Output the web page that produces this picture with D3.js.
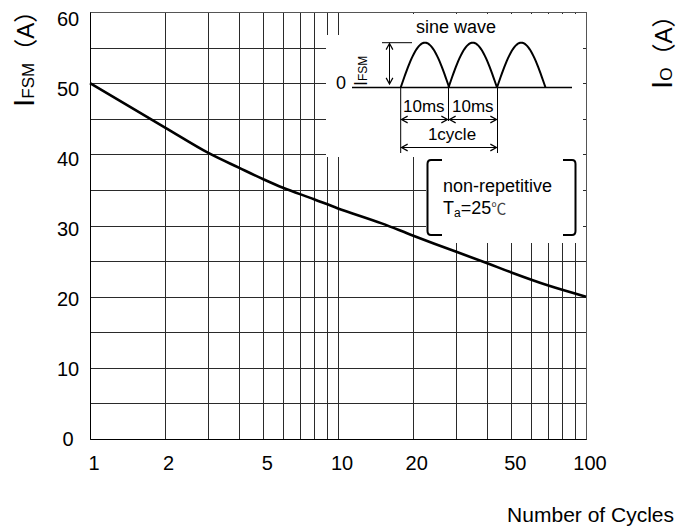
<!DOCTYPE html>
<html>
<head>
<meta charset="utf-8">
<script src="https://cdn.jsdelivr.net/npm/d3@7"></script>
<style>
  body { margin: 0; background: #fff; }
  text { font-family: "Liberation Sans", Arial, "Noto Sans CJK SC", sans-serif; fill: #000; }
</style>
</head>
<body>
<div id="chart"></div>
<script>
// surge current vs number of cycles
var cycles = [1, 2, 3, 4, 5, 6, 8, 10, 15, 20, 30, 40, 50, 70, 100];
var ifsm   = [50, 43.8, 40.2, 38.1, 36.5, 35.3, 33.7, 32.4, 30.3, 28.6, 26.3, 24.7, 23.4, 21.6, 20];

var xTickLabels = [1, 2, 5, 10, 20, 50, 100];
var xGridLines  = [2, 3, 4, 5, 6, 7, 8, 9, 10, 20, 30, 40, 50, 60, 70, 80, 90];
var yTickLabels = [0, 10, 20, 30, 40, 50, 60];
var yGridLines  = [5, 10, 15, 20, 25, 30, 35, 40, 45, 50, 55];

var W = 677, H = 531;
var svg = d3.select("#chart").append("svg")
    .attr("width", W)
    .attr("height", H);

var x = d3.scaleLog().domain([1, 100]).range([90, 586]);
var y = d3.scaleLinear().domain([0, 60]).range([439, 12]);
// the printed labels drift a little from the grid
var yLab = d3.scaleLinear().domain([0, 60]).range([446, 26]);

function px(v) { return Math.round(v) + 0.5; }

var gridCol = "#2a2a2a";

// grid
svg.append("g").selectAll("line").data(xGridLines).enter().append("line")
    .attr("x1", function(d) { return px(x(d)); })
    .attr("x2", function(d) { return px(x(d)); })
    .attr("y1", y(60)).attr("y2", y(0))
    .attr("stroke", gridCol).attr("stroke-width", 1);

svg.append("g").selectAll("line").data(yGridLines).enter().append("line")
    .attr("x1", x(1)).attr("x2", x(100))
    .attr("y1", function(d) { return px(y(d)); })
    .attr("y2", function(d) { return px(y(d)); })
    .attr("stroke", gridCol).attr("stroke-width", 1);

// white patches behind the inset and the note
svg.append("rect").attr("x", 326).attr("y", 35).attr("width", 257).attr("height", 122).attr("fill", "#fff");
svg.append("rect").attr("x", 343).attr("y", 14).attr("width", 240).attr("height", 22).attr("fill", "#fff");
svg.append("rect").attr("x", 426).attr("y", 157).attr("width", 157).attr("height", 86).attr("fill", "#fff");

// frame
svg.append("rect")
    .attr("x", px(x(1))).attr("y", px(y(60)))
    .attr("width", Math.round(x(100)) - Math.round(x(1)))
    .attr("height", Math.round(y(0)) - Math.round(y(60)))
    .attr("fill", "none").attr("stroke", "#555").attr("stroke-width", 1);
svg.append("line").attr("x1", px(x(1))).attr("x2", px(x(100)))
    .attr("y1", px(y(0))).attr("y2", px(y(0))).attr("stroke", "#000");
svg.append("line").attr("x1", px(x(1))).attr("x2", px(x(1)))
    .attr("y1", px(y(60))).attr("y2", px(y(0))).attr("stroke", "#000");

// curve
var line = d3.line()
    .x(function(d, i) { return x(cycles[i]); })
    .y(function(d) { return y(d); })
    .curve(d3.curveCatmullRom.alpha(0.5));

svg.append("path")
    .attr("d", line(ifsm))
    .attr("fill", "none")
    .attr("stroke", "#000")
    .attr("stroke-width", 2.6);

// tick labels
svg.append("g").selectAll("text").data(yTickLabels).enter().append("text")
    .attr("x", 68).attr("y", function(d) { return yLab(d); })
    .attr("text-anchor", "middle")
    .style("font-size", "20px")
    .text(function(d) { return d; });

svg.append("g").selectAll("text").data(xTickLabels).enter().append("text")
    .attr("x", function(d) { return x(d) + 4; }).attr("y", 470)
    .attr("text-anchor", "middle")
    .style("font-size", "20px")
    .text(function(d) { return d; });

svg.append("text")
    .attr("x", 674).attr("y", 522)
    .attr("text-anchor", "end")
    .style("font-size", "21px")
    .text("Number of Cycles");

// axis titles (left one and the cut-off one of the next chart)
function ampTitle(tx, ty, sub) {
  var t = svg.append("text")
      .attr("transform", "translate(" + tx + "," + ty + ") rotate(-90)");
  t.append("tspan").style("font-size", "30px").text("I");
  t.append("tspan").style("font-size", "17px").text(sub);
  t.append("tspan").style("font-size", "24px").text("（A）");
}
ampTitle(34, 107, "FSM");
ampTitle(672, 89, "O");

// inset: sine wave sketch
var inset = svg.append("g");
var base = 87.5, peak = 42.7;
var humps = [400.7, 448.5, 497];
var humpW = 48.5;

inset.append("text").attr("x", 456).attr("y", 33)
    .attr("text-anchor", "middle").style("font-size", "18px").text("sine wave");

var hump = d3.line().x(function(d) { return d[0]; }).y(function(d) { return d[1]; });
humps.forEach(function(x0) {
  var pts = d3.range(0, 41).map(function(k) {
    var t = k / 40;
    return [x0 + t * humpW, base - (base - peak) * Math.sin(Math.PI * t)];
  });
  inset.append("path").attr("d", hump(pts))
      .attr("fill", "none").attr("stroke", "#000").attr("stroke-width", 2);
});

inset.append("line").attr("x1", 352).attr("x2", 572).attr("y1", base).attr("y2", base)
    .attr("stroke", "#000").attr("stroke-width", 1.4);
inset.append("line").attr("x1", 382).attr("x2", 412).attr("y1", peak).attr("y2", peak)
    .attr("stroke", "#000").attr("stroke-width", 1);

// drop lines under the humps
[[400.7, 153], [448.5, 121], [497.5, 153]].forEach(function(d) {
  inset.append("line").attr("x1", d[0]).attr("x2", d[0]).attr("y1", base).attr("y2", d[1])
      .attr("stroke", "#000").attr("stroke-width", 1);
});

function arrow(x1, y1, x2, y2) {
  inset.append("line").attr("x1", x1).attr("y1", y1).attr("x2", x2).attr("y2", y2)
      .attr("stroke", "#000").attr("stroke-width", 1);
  var a = Math.atan2(y2 - y1, x2 - x1), L = 7, s = 0.5;
  [[x1, y1, a], [x2, y2, a + Math.PI]].forEach(function(e) {
    var p = "M" + (e[0] + L * Math.cos(e[2] - s)) + "," + (e[1] + L * Math.sin(e[2] - s)) +
            "L" + e[0] + "," + e[1] +
            "L" + (e[0] + L * Math.cos(e[2] + s)) + "," + (e[1] + L * Math.sin(e[2] + s));
    inset.append("path").attr("d", p).attr("fill", "none").attr("stroke", "#000").attr("stroke-width", 1.2);
  });
}
arrow(389.5, 43.5, 389.5, 84);
arrow(401.5, 119.5, 447.5, 119.5);
arrow(449.5, 119.5, 496.5, 119.5);
arrow(401.5, 147.5, 496.5, 147.5);

inset.append("text").attr("x", 403).attr("y", 112).style("font-size", "17px").text("10ms");
inset.append("text").attr("x", 452).attr("y", 112).style("font-size", "17px").text("10ms");
inset.append("text").attr("x", 452).attr("y", 140).attr("text-anchor", "middle")
    .style("font-size", "17px").text("1cycle");

inset.append("text").attr("x", 346).attr("y", 89).attr("text-anchor", "end")
    .style("font-size", "18px").text("0");
var it = inset.append("text").attr("transform", "translate(367,86) rotate(-90)");
it.append("tspan").style("font-size", "18px").text("I");
it.append("tspan").style("font-size", "12px").text("FSM");

// note in brackets
var note = svg.append("g");
note.append("path")
    .attr("d", "M442,160 L431,160 Q427.5,160 427.5,164 L427.5,231 Q427.5,235 431,235 L442,235")
    .attr("fill", "none").attr("stroke", "#000").attr("stroke-width", 2);
note.append("path")
    .attr("d", "M563,160 L572,160 Q575.5,160 575.5,164 L575.5,231 Q575.5,235 572,235 L563,235")
    .attr("fill", "none").attr("stroke", "#000").attr("stroke-width", 2);
note.append("text").attr("x", 443).attr("y", 192).style("font-size", "18px").text("non-repetitive");
var ta = note.append("text").attr("x", 443).attr("y", 214).style("font-size", "18px");
ta.append("tspan").text("T");
ta.append("tspan").style("font-size", "12px").attr("dy", 3).text("a");
ta.append("tspan").attr("dy", -3).text("=25");
ta.append("tspan").style("font-family", "'Noto Sans CJK SC'").style("font-size", "15px")
    .style("fill", "#444").text("℃");
</script>
</body>
</html>
